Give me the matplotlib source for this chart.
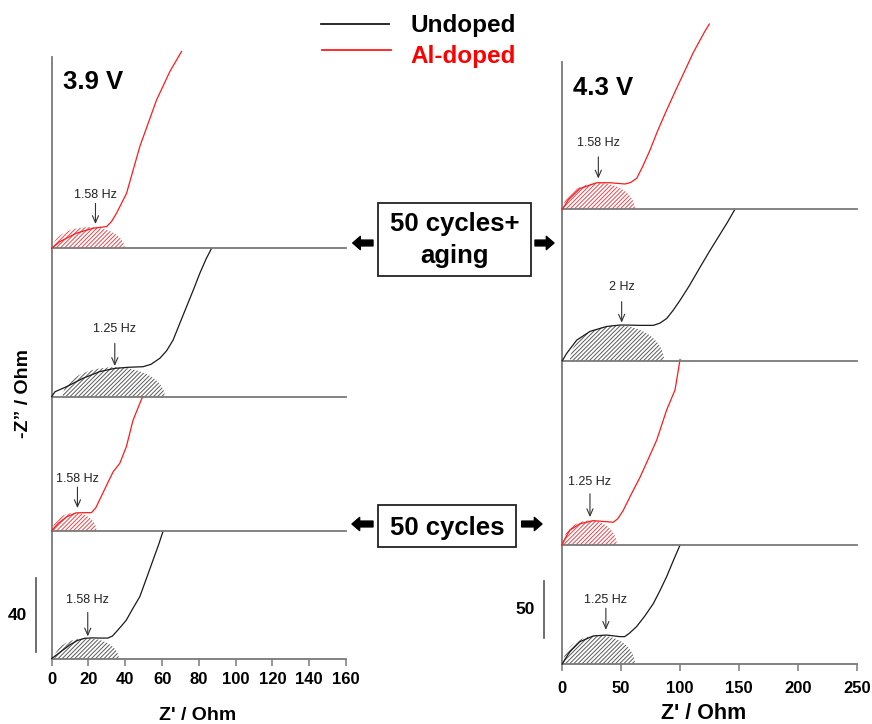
import matplotlib
matplotlib.use('Agg')
import matplotlib.pyplot as plt
from matplotlib.patches import Ellipse, Rectangle, FancyArrowPatch
from matplotlib.lines import Line2D
from matplotlib.transforms import blended_transform_factory

plt.rcParams['font.family'] = ['Liberation Sans', 'DejaVu Sans']
plt.rcParams['hatch.linewidth'] = 0.7

# ---- Nyquist data (Z', -Z'' in Ohm), each curve relative to its own baseline ----
# 3.9 V column
v39_undoped_50_x = [0, 2, 6, 10, 14, 18, 22, 26, 30.5, 33, 35.2, 38, 40.6, 44, 47.9, 51.5, 55.1, 58, 60.5]
v39_undoped_50_y = [0, 1.5, 4.5, 7.5, 9.8, 11, 11.2, 11.1, 11.1, 12.2, 14.6, 17.8, 20.9, 27, 33.6, 43.5, 53.5, 61.5, 69]
v39_doped_50_x = [0, 1.5, 3.6, 8.2, 13.4, 18, 21.6, 24, 26, 29.5, 33.4, 37, 40.6, 44.2, 48.8, 49.6]
v39_doped_50_y = [0, 1.8, 4, 7.6, 9.7, 9.8, 9.8, 12.5, 16.7, 24, 32, 36.6, 45.7, 60, 71.4, 72.8]
v39_undoped_aged_x = [0, 1.8, 8, 17, 26, 34.3, 42, 49.7, 54, 58.8, 62.5, 66, 69.5, 73.3, 77, 80.5, 84, 86.9]
v39_undoped_aged_y = [0, 2.7, 5.4, 10, 13.6, 15.4, 16, 16.3, 17.6, 20.9, 25, 30.8, 39.5, 48.9, 58, 67, 75, 80.6]
v39_doped_aged_x = [0, 4.4, 13.4, 22.5, 29.8, 32.5, 35.2, 40.7, 47.9, 57, 64.2, 70.6]
v39_doped_aged_y = [0, 3.6, 8.2, 10.9, 11.8, 14.5, 19, 29.9, 55.3, 80.6, 96, 107]

# 4.3 V column
v43_undoped_50_x = [0, 2.5, 6.5, 15, 26.3, 37.7, 49, 53, 57, 63, 70, 77.3, 83, 88.6, 94, 100]
v43_undoped_50_y = [0, 4.5, 10.8, 19.6, 24.6, 25.4, 24, 24, 27, 32.7, 42, 53, 64.5, 76.6, 90, 104.4]
v43_doped_50_x = [0, 2.5, 6.5, 15, 26.3, 37.7, 43.3, 47, 51.8, 58, 66, 73, 80.2, 88.6, 95.7, 100]
v43_doped_50_y = [0, 5.5, 12.7, 18.2, 20.9, 20, 19.5, 22.5, 30, 43, 59, 75, 91.7, 118, 135.5, 162.3]
v43_undoped_aged_x = [0, 3.7, 12.2, 23.5, 37.7, 49, 57, 66, 77.3, 83, 88.6, 94, 100, 108, 117, 125, 134, 140, 146.6]
v43_undoped_aged_y = [0, 6.4, 18, 25.7, 30, 31.3, 31.2, 31, 31, 33, 37, 44, 53, 66, 82, 96, 111, 121, 132.8]
v43_doped_aged_x = [0, 5.1, 15, 29.2, 40.5, 53.2, 58, 63.2, 68, 74.5, 81, 88.6, 97, 105.6, 111, 117, 121, 124.8]
v43_doped_aged_y = [0, 8.2, 18.2, 23.3, 23.3, 22.2, 23.5, 27.2, 37, 52, 69, 87, 106, 125, 137, 148.5, 156, 162.5]

# fitted semicircles: (Z' start, Z' end, height)
v39_arcs = [(1.5, 36.5, 11), (0.5, 24.3, 9.7), (6, 61.5, 16), (0.5, 39.7, 11.5)]
v43_arcs = [(0.5, 61.7, 25), (0.5, 46.2, 21), (6.5, 86.4, 31), (0.5, 61.7, 23)]

# apex frequency labels and their Z'
v39_freqs = ['1.58 Hz', '1.58 Hz', '1.25 Hz', '1.58 Hz']
v39_freq_x = [19.6, 14, 34.3, 23.8]
v43_freqs = ['1.25 Hz', '1.25 Hz', '2 Hz', '1.58 Hz']
v43_freq_x = [37, 23.5, 50.4, 30.6]

v39_ticks = [0, 20, 40, 60, 80, 100, 120, 140, 160]
v43_ticks = [0, 50, 100, 150, 200, 250]

BLACK = '#1a1a1a'
RED = '#ff1a1a'
HATCH_K = '#5a5a5a'
HATCH_R = '#e8484f'
AXIS = '#7a7a7a'

W, H = 872, 724
fig = plt.figure(figsize=(W / 100, H / 100), dpi=100)


def fx(x):
    return x / W


def fy(y):
    return 1 - y / H


def add_panel(x0, x1, ytop, ybot, scale, xmax):
    ax = fig.add_axes([fx(x0), fy(ybot), (x1 - x0) / W, (ybot - ytop) / H])
    ax.set_xlim(0, xmax)
    ax.set_ylim(0, (ybot - ytop) / scale)
    ax.patch.set_alpha(0)
    for s in ['top', 'right']:
        ax.spines[s].set_visible(False)
    for s in ['left', 'bottom']:
        ax.spines[s].set_color(AXIS)
        ax.spines[s].set_linewidth(1.3)
    ax.set_yticks([])
    ax.set_xticks([])
    return ax


def draw_curve(ax, x, y, color, hatch_color, arc, label, lx, label_y, tail_y, tip_y):
    a0, a1, h = arc
    ax.add_patch(Ellipse(((a0 + a1) / 2, 0), a1 - a0, 2 * h, facecolor='none',
                         edgecolor=hatch_color, lw=0, hatch='////////', zorder=1))
    ax.plot(x, y, color=color, lw=0.9, zorder=3, clip_on=False)
    ax.annotate('', xy=(lx, tip_y), xytext=(lx, tail_y),
                arrowprops=dict(arrowstyle='->,head_length=0.5,head_width=0.22',
                                color='#333333', lw=0.8, shrinkA=0, shrinkB=0))
    ax.text(lx, label_y, label, ha='center', va='center', fontsize=9, color='#222222')


# ---- 3.9 V column ----
L_X0, L_X1, L_SCALE = 51.7, 346, 1.84
left_rows = [(530.7, 658.5), (396.7, 530.7), (248.3, 396.7), (40, 248.3)]
left_curves = [(v39_undoped_50_x, v39_undoped_50_y, BLACK, HATCH_K),
               (v39_doped_50_x, v39_doped_50_y, RED, HATCH_R),
               (v39_undoped_aged_x, v39_undoped_aged_y, BLACK, HATCH_K),
               (v39_doped_aged_x, v39_doped_aged_y, RED, HATCH_R)]
left_text_y = [(32, 25, 12), (28, 23.7, 12.3), (37, 29, 16.7), (29, 24.4, 13.2)]
left_axes = []
for i, (yt, yb) in enumerate(left_rows):
    ax = add_panel(L_X0, L_X1, yt, yb, L_SCALE, 160)
    cx, cy, col, hc = left_curves[i]
    draw_curve(ax, cx, cy, col, hc, v39_arcs[i], v39_freqs[i], v39_freq_x[i], *left_text_y[i])
    left_axes.append(ax)
left_axes[-1].spines['left'].set_bounds(0, (248.3 - 57) / L_SCALE)

# ---- 4.3 V column ----
R_X0, R_X1, R_SCALE = 562.3, 856.7, 1.14
right_rows = [(544.5, 664), (360.7, 544.5), (209.3, 360.7), (15, 209.3)]
right_curves = [(v43_undoped_50_x, v43_undoped_50_y, BLACK, HATCH_K),
                (v43_doped_50_x, v43_doped_50_y, RED, HATCH_R),
                (v43_undoped_aged_x, v43_undoped_aged_y, BLACK, HATCH_K),
                (v43_doped_aged_x, v43_doped_aged_y, RED, HATCH_R)]
right_text_y = [(56, 49, 30), (55, 44.5, 24), (64.3, 51.8, 33.4), (58, 46, 27)]
right_axes = []
for i, (yt, yb) in enumerate(right_rows):
    ax = add_panel(R_X0, R_X1, yt, yb, R_SCALE, 250)
    cx, cy, col, hc = right_curves[i]
    draw_curve(ax, cx, cy, col, hc, v43_arcs[i], v43_freqs[i], v43_freq_x[i], *right_text_y[i])
    right_axes.append(ax)
right_axes[-1].spines['left'].set_bounds(0, (209.3 - 62) / R_SCALE)

# bottom x axes with ticks
for ax, ticks, pad in [(left_axes[0], v39_ticks, 5), (right_axes[0], v43_ticks, 7)]:
    ax.set_xticks(ticks)
    ax.set_xticklabels([str(t) for t in ticks], fontweight='bold', fontsize=12)
    ax.tick_params(axis='x', direction='out', length=5, width=1.1, color=AXIS, pad=pad)

# scale bars
for ax, xb, xt, y0, y1, txt in [(left_axes[0], -0.0533, -0.115, 3.5, 43.5, '40'),
                               (right_axes[0], -0.061, -0.128, 22.8, 72.8, '50')]:
    tr = blended_transform_factory(ax.transAxes, ax.transData)
    ax.plot([xb, xb], [y0, y1], transform=tr, clip_on=False, color='#555555', lw=1.2)
    ax.text(xt, (y0 + y1) / 2, txt, transform=tr, ha='center', va='center',
            fontweight='bold', fontsize=12.5)

# voltage tags and axis titles
fig.text(fx(63), fy(89), '3.9 V', fontweight='bold', fontsize=18.5, va='baseline')
fig.text(fx(572.5), fy(95), '4.3 V', fontweight='bold', fontsize=18.5, va='baseline')
fig.text(fx(198), fy(720), "Z' / Ohm", fontweight='bold', fontsize=14, ha='center', va='baseline')
fig.text(fx(704), fy(719), "Z' / Ohm", fontweight='bold', fontsize=15.5, ha='center', va='baseline')
fig.text(fx(24), fy(393), '-Z\u201d / Ohm', fontweight='bold', fontsize=14, rotation=90,
         ha='center', va='center')

# legend
fig.add_artist(Line2D([fx(321), fx(389)], [fy(24), fy(24)], color=BLACK, lw=1.3))
fig.add_artist(Line2D([fx(322), fx(391)], [fy(50), fy(50)], color=RED, lw=1.3))
fig.text(fx(410), fy(31.7), 'Undoped', fontweight='bold', fontsize=17.5, va='baseline')
fig.text(fx(410), fy(63.3), 'Al-doped', fontweight='bold', fontsize=17.5, va='baseline', color='#ff0000')

# condition boxes with arrows
fig.add_artist(Rectangle((fx(377.7), fy(276)), (531 - 377.7) / W, (276 - 202.7) / H,
                         transform=fig.transFigure, fill=False, ec='#222222', lw=1.3))
fig.text(fx(454.3), fy(231.5), '50 cycles+', fontweight='bold', fontsize=18.5, ha='center', va='baseline')
fig.text(fx(454.3), fy(263), 'aging', fontweight='bold', fontsize=18.5, ha='center', va='baseline')
fig.add_artist(Rectangle((fx(378), fy(546.7)), (515.7 - 378) / W, (546.7 - 505) / H,
                         transform=fig.transFigure, fill=False, ec='#222222', lw=1.3))
fig.text(fx(446.8), fy(535), '50 cycles', fontweight='bold', fontsize=18.5, ha='center', va='baseline')

arrow_style = 'simple,head_length=0.55,head_width=0.95,tail_width=0.42'
for xs, xe, y in [(373, 352.7, 243), (535, 554, 243), (373, 352, 524), (521.7, 542, 524)]:
    fig.add_artist(FancyArrowPatch((fx(xs), fy(y)), (fx(xe), fy(y)), transform=fig.transFigure,
                                   arrowstyle=arrow_style, mutation_scale=10, color='black',
                                   shrinkA=0, shrinkB=0))

fig.savefig('out.png', dpi=100)
